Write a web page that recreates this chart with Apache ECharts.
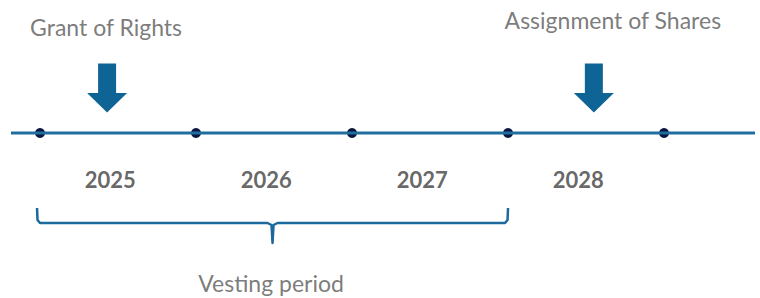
<!DOCTYPE html>
<html><head><meta charset="utf-8">
<script src="https://cdn.jsdelivr.net/npm/echarts@6/dist/echarts.min.js"></script>
<style>html,body{margin:0;padding:0;background:#fff}#c{width:760px;height:298px}</style>
</head><body><div id="c"></div>
<script>
// ---- data ----
const years = ['2025', '2026', '2027', '2028'];
const boundaries = [2025, 2026, 2027, 2028, 2029];
const eventNames = ['Grant of Rights', 'Assignment of Shares'];
const eventAt = [2025.43, 2028.55];
const vestingStart = 2025;
const vestingEnd = 2028;
const vestingLabel = 'Vesting period';
const timelineRange = [2024.814, 2029.583];

// ---- layout (y levels relative to the timeline at 0) ----
const LAYOUT = {
  arrowY: 45, eventTextY: 106, yearY: -46,
  braceTop: -75, braceMid: -90, braceTip: -110, vestingY: -150
};
const FONT = 'Lato, "Open Sans", "Liberation Sans", sans-serif';
const ARROW = 'path://M11,0 L29,0 L29,29 L40,29 L20,48 L0,29 L11,29 Z';

const chart = echarts.init(document.getElementById('c'), null, {renderer: 'svg'});
chart.setOption({
  animation: false,
  backgroundColor: '#ffffff',
  grid: {left: 11, right: 5, top: 0, bottom: 0},
  xAxis: {type: 'value', min: timelineRange[0], max: timelineRange[1], show: false},
  yAxis: {type: 'value', min: -165, max: 133, show: false},
  series: [
    {
      type: 'line', symbol: 'none', silent: true,
      data: [[timelineRange[0], 0], [timelineRange[1], 0]],
      lineStyle: {color: '#1F6E9E', width: 3}
    },
    {
      type: 'scatter', symbol: 'circle', symbolSize: 10,
      itemStyle: {color: '#0B1742', opacity: 1},
      data: boundaries.map(b => [b, 0])
    },
    {
      type: 'scatter', symbol: ARROW, symbolSize: [40, 49],
      itemStyle: {color: '#0F6496', opacity: 1},
      data: eventAt.map(x => [x, LAYOUT.arrowY])
    },
    {
      type: 'scatter', symbolSize: 0,
      label: {show: true, position: 'inside', formatter: p => p.name,
              color: '#595959', fontSize: 23, fontFamily: FONT},
      data: eventNames.map((n, i) => ({
        name: n, value: [eventAt[i], LAYOUT.eventTextY],
        label: {offset: i === 1 ? [19, -7] : [-1, 0]}
      }))
    },
    {
      type: 'scatter', symbolSize: 0,
      label: {show: true, position: 'inside', formatter: p => p.name,
              color: '#404040', fontSize: 22, fontWeight: 'bold', fontFamily: FONT},
      data: years.map(y => ({name: y, value: [Number(y) + 0.45, LAYOUT.yearY]}))
    },
    {
      type: 'custom', silent: true,
      data: [[vestingStart, vestingEnd]],
      renderItem: function (params, api) {
        const x0 = api.coord([api.value(0), 0])[0] - 3;
        const x1 = api.coord([api.value(1), 0])[0];
        const xm = (x0 + x1) / 2;
        const yT = api.coord([0, LAYOUT.braceTop])[1];
        const yH = api.coord([0, LAYOUT.braceMid])[1];
        const yB = api.coord([0, LAYOUT.braceTip])[1];
        return {
          type: 'polyline',
          shape: {points: [
            [x0, yT], [x0 + 0.5, yH - 3], [x0 + 3, yH], [xm - 5, yH], [xm - 1, yH + 2],
            [xm, yB], [xm + 1, yH + 2], [xm + 5, yH], [x1 - 3, yH], [x1 - 0.5, yH - 3], [x1, yT]
          ]},
          style: {stroke: '#1C699B', lineWidth: 2.5, fill: null, lineJoin: 'round'}
        };
      }
    },
    {
      type: 'scatter', symbolSize: 0,
      label: {show: true, position: 'inside', formatter: p => p.name,
              color: '#595959', fontSize: 23, fontFamily: FONT, offset: [-3, 0]},
      data: [{name: vestingLabel, value: [(vestingStart + vestingEnd) / 2, LAYOUT.vestingY]}]
    }
  ]
});
</script></body></html>
